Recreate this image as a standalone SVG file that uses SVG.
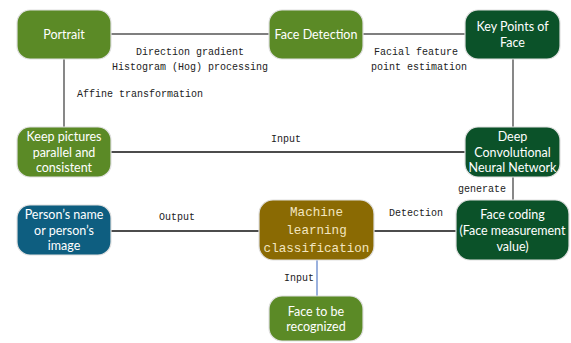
<svg xmlns="http://www.w3.org/2000/svg" width="571" height="343" viewBox="0 0 571 343">
<style>
.n{stroke:#e0e0e0;stroke-width:1.2}
.g{fill:#5b8a26}
.dg{fill:#0b5229}
.bl{fill:#0e5e80}
.br{fill:#8a6a03}
.t{font-family:Lato,"Liberation Sans",sans-serif;font-size:12.5px;fill:#ffffff;text-anchor:middle}
.m{font-family:"Liberation Mono",monospace;font-size:12.6px;fill:#f3e6c0;text-anchor:middle}
.l{font-family:"Liberation Mono",monospace;font-size:10px;fill:#222222}
.c{stroke:#111111;stroke-width:1.4;fill:none}
.c2{stroke:#555555;stroke-width:1.4;fill:none}
</style>
<rect width="571" height="343" fill="#ffffff"/>
<g id="connectors">
<line class="c2" x1="111" y1="34" x2="269" y2="34"/>
<line class="c2" x1="363" y1="34" x2="465" y2="34"/>
<line class="c2" x1="513" y1="59" x2="513" y2="127"/>
<line class="c2" x1="64" y1="59" x2="64" y2="127"/>
<line class="c" x1="111" y1="152" x2="465" y2="152"/>
<line class="c2" x1="513" y1="177" x2="513" y2="201"/>
<line class="c" x1="374" y1="231" x2="456" y2="231"/>
<line class="c" x1="111" y1="231" x2="259" y2="231"/>
<line stroke="#7090d0" stroke-width="1.4" x1="317" y1="260" x2="317" y2="296"/>
<text class="l" x="190" y="55" text-anchor="middle">Direction gradient</text>
<text class="l" x="190" y="70" text-anchor="middle">Histogram (Hog) processing</text>
<text class="l" x="77" y="97">Affine transformation</text>
<text class="l" x="416" y="55" text-anchor="middle">Facial feature</text>
<text class="l" x="419" y="70" text-anchor="middle">point estimation</text>
<text class="l" x="286" y="142" text-anchor="middle">Input</text>
<text class="l" x="482" y="192" text-anchor="middle">generate</text>
<text class="l" x="177" y="220" text-anchor="middle">Output</text>
<text class="l" x="416" y="216" text-anchor="middle">Detection</text>
<text class="l" x="299" y="281" text-anchor="middle">Input</text>
</g>
<g id="portrait"><rect class="n g" x="17" y="10" width="94" height="49" rx="13"/><text class="t" x="64" y="38.5">Portrait</text></g>
<g id="face-detection"><rect class="n g" x="269" y="10" width="94" height="49" rx="13"/><text class="t" x="316" y="38.5">Face Detection</text></g>
<g id="key-points"><rect class="n dg" x="465" y="10" width="95" height="49" rx="13"/><text class="t" x="512.5" y="31">Key Points of</text><text class="t" x="512.5" y="47">Face</text></g>
<g id="keep-pictures"><rect class="n g" x="17" y="127" width="94" height="50" rx="13"/><text class="t" x="64" y="141">Keep pictures</text><text class="t" x="64" y="157">parallel and</text><text class="t" x="64" y="172">consistent</text></g>
<g id="dcnn"><rect class="n dg" x="465" y="127" width="95" height="50" rx="13"/><text class="t" x="512.5" y="141">Deep</text><text class="t" x="512.5" y="157">Convolutional</text><text class="t" x="512.5" y="172">Neural Network</text></g>
<g id="person"><rect class="n bl" x="17" y="205" width="94" height="50" rx="13"/><text class="t" x="64" y="219">Person’s name</text><text class="t" x="64" y="235">or person’s</text><text class="t" x="64" y="250">image</text></g>
<g id="ml"><rect class="n br" x="259" y="200" width="115" height="60" rx="14"/><text class="m" x="316.5" y="216">Machine</text><text class="m" x="316.5" y="234">learning</text><text class="m" x="316.5" y="252">classification</text></g>
<g id="face-coding"><rect class="n dg" x="456" y="200" width="113" height="60" rx="14"/><text class="t" x="512.5" y="219">Face coding</text><text class="t" x="512.5" y="235">(Face measurement</text><text class="t" x="512.5" y="251">value)</text></g>
<g id="face-recognized"><rect class="n g" x="269" y="296" width="94" height="45" rx="13"/><text class="t" x="316" y="316">Face to be</text><text class="t" x="316" y="331">recognized</text></g>
</svg>
